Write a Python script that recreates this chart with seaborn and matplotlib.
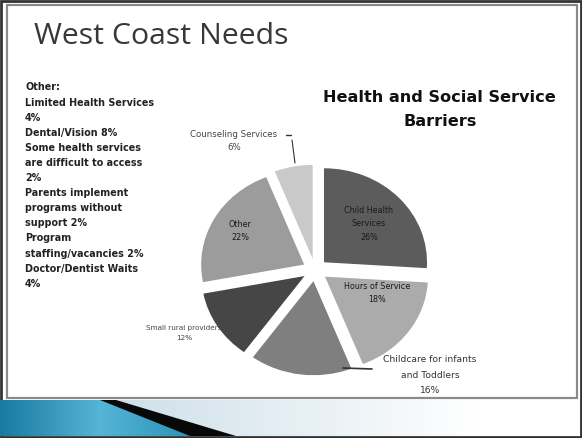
import numpy as np
import matplotlib
matplotlib.use("Agg")
import matplotlib.pyplot as plt
from matplotlib.patches import Rectangle, Polygon
import seaborn as sns

sns.set_theme(style="white")
plt.rcParams["font.family"] = ["Open Sans", "DejaVu Sans"]

# Pie data
categories = ["Child Health\nServices", "Hours of Service", "Childcare for infants\nand Toddlers",
              "Small rural providers", "Other", "Counseling Services"]
shares = [26, 18, 16, 12, 22, 6]
slice_colors = ["#5c5c5c", "#ababab", "#7f7f7f", "#464646", "#9c9c9c", "#c9c9c9"]

# Breakdown of the "Other" slice
other_lines = ["Other:", "Limited Health Services", "4%", "Dental/Vision 8%",
               "Some health services", "are difficult to access", "2%",
               "Parents implement", "programs without", "support 2%", "Program",
               "staffing/vacancies 2%", "Doctor/Dentist Waits", "4%"]

W, H = 582, 438
fig = plt.figure(figsize=(W / 100, H / 100), dpi=100)
fig.patch.set_facecolor("white")


def fx(px):
    return px / W


def fy(py):
    return 1 - py / H


# slide frame
bg = fig.add_axes([0, 0, 1, 1], zorder=0)
bg.axis("off")
bg.add_patch(Rectangle((1, 1), W - 2, H - 2, fill=False, ec="#333333", lw=2))
bg.add_patch(Rectangle((7, 5), 570, 393, fill=False, ec="#8a8a8a", lw=1.6))

# bottom ribbon: blue gradient, black swoosh, pale fade
grad = np.linspace(0, 1, 256)
img = np.zeros((1, 256, 3))
c0, c1, c2 = np.array([0.10, 0.48, 0.63]), np.array([0.33, 0.71, 0.84]), np.array([0.16, 0.56, 0.70])
for i, t in enumerate(grad):
    img[0, i] = c0 * (1 - 2 * t) + c1 * 2 * t if t < 0.5 else c1 * (2 - 2 * t) + c2 * (2 * t - 1)
pale = np.zeros((1, 256, 4))
for i, t in enumerate(grad):
    pale[0, i] = [0.80 + 0.20 * t, 0.87 + 0.13 * t, 0.91 + 0.09 * t, 1.0]
bg.imshow(pale, extent=(100, 480, 436, 400), aspect="auto", zorder=2)
blue_clip = Polygon([[0, 400], [104, 400], [192, 436], [0, 436]], closed=True,
                    transform=bg.transData)
blue = bg.imshow(img, extent=(0, 200, 436, 400), aspect="auto", zorder=3)
blue.set_clip_path(blue_clip)
bg.add_patch(Polygon([[100, 400], [116, 400], [236, 436], [190, 436]], closed=True,
                     fc="#080808", ec="none", zorder=4))
bg.set_xlim(0, W)
bg.set_ylim(H, 0)

# slide title
fig.text(fx(34), fy(36), "West Coast Needs", fontsize=21.8, color="#383838",
         va="center", ha="left")

# left text block
for i, line in enumerate(other_lines):
    fig.text(fx(25), fy(87.5 + i * 15.1), line, fontsize=6.9, fontweight="bold",
             family="DejaVu Sans", color="#222222", va="center", ha="left")

# chart title
fig.text(fx(439), fy(98), "Health and Social Service", fontsize=11.6,
         fontweight="bold", family="DejaVu Sans", color="#111111",
         ha="center", va="center")
fig.text(fx(440), fy(122), "Barriers", fontsize=11.6, fontweight="bold",
         family="DejaVu Sans", color="#111111", ha="center", va="center")

# pie
cx, cy, rx, ry = 315, 270, 103, 94
lim = 1.3
ax = fig.add_axes([fx(cx - lim * rx), fy(cy + lim * ry), 2 * lim * rx / W, 2 * lim * ry / H],
                  zorder=2)
wedges, _ = ax.pie(shares, colors=slice_colors, startangle=90, counterclock=False,
                   explode=[0.12] * len(shares), radius=1.0,
                   wedgeprops=dict(linewidth=0))
ax.set_aspect("auto")
ax.set_xlim(-lim, lim)
ax.set_ylim(-lim, lim)
ax.axis("off")

labels = [f"{c}\n{s}%" for c, s in zip(categories, shares)]
# label placement in pixels (centre of text)
label_pos = [(369, 224), (377, 293), (430, 375), (184, 333), (240, 231), (234, 141)]
label_col = ["#1a1a1a", "#1a1a1a", "#333333", "#444444", "#1a1a1a", "#444444"]
label_size = [5.8, 5.8, 6.6, 5.2, 5.8, 6.2]
label_ls = [1.7, 1.7, 1.9, 1.7, 1.7, 1.6]
for lab, (px, py), col, fs, ls in zip(labels, label_pos, label_col, label_size, label_ls):
    fig.text(fx(px), fy(py), lab, fontsize=fs, color=col, ha="center", va="center",
             family="DejaVu Sans", linespacing=ls, zorder=5)

# leader lines
ov = fig.add_axes([0, 0, 1, 1], zorder=4)
ov.set_xlim(0, W)
ov.set_ylim(H, 0)
ov.axis("off")
ov.plot([286, 291], [135, 135], color="#333333", lw=1)
ov.plot([292, 295], [140, 163], color="#333333", lw=0.8)
ov.plot([343, 372], [368, 369], color="#333333", lw=1.2)

fig.savefig("out.png", dpi=100)
